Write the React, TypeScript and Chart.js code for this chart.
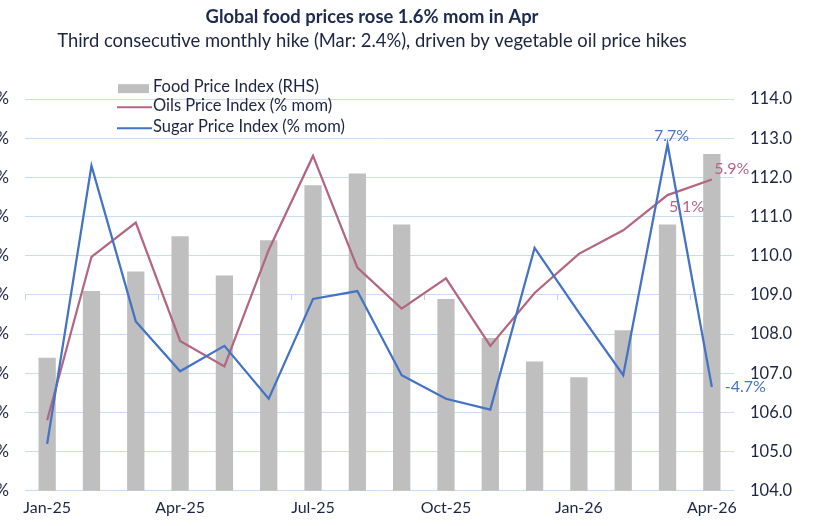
import React, { useEffect, useRef } from 'react';
import { Chart, registerables } from 'chart.js';

Chart.register(...registerables);

const categories = [
  'Jan-25', 'Feb-25', 'Mar-25', 'Apr-25', 'May-25', 'Jun-25', 'Jul-25', 'Aug-25',
  'Sep-25', 'Oct-25', 'Nov-25', 'Dec-25', 'Jan-26', 'Feb-26', 'Mar-26', 'Apr-26',
];
const foodPriceIndex = [107.4, 109.1, 109.6, 110.5, 109.5, 110.4, 111.8, 112.1, 110.8, 108.9, 107.9, 107.3, 106.9, 108.1, 110.8, 112.6];
const oilsMom = [-6.4, 1.95, 3.7, -2.35, -3.65, 2.3, 7.1, 1.4, -0.7, 0.85, -2.6, 0.1, 2.1, 3.3, 5.1, 5.9];
const sugarMom = [-7.6, 6.6, -1.35, -3.9, -2.6, -5.3, -0.2, 0.2, -4.1, -5.3, -5.85, 2.4, -0.9, -4.1, 7.7, -4.7];
const leftAxisTicks = [-10, -8, -6, -4, -2, 0, 2, 4, 6, 8, 10];
const rightAxisTicks = [104, 105, 106, 107, 108, 109, 110, 111, 112, 113, 114];

const TITLE = 'Global food prices rose 1.6% mom in Apr';
const SUBTITLE = 'Third consecutive monthly hike (Mar: 2.4%), driven by vegetable oil price hikes';

const GREY = '#BFBFBF';
const MAUVE = '#B3667F';
const BLUE = '#4472C4';
const GRID = '#C9DCF5';
const TEXT = '#1B2541';
const FONT = 'Lato';

const legendPlugin = {
  id: 'customLegend',
  afterDraw(chart: any) {
    const { ctx, chartArea } = chart;
    const x0 = chartArea.left + 93;
    const rows = [chartArea.top - 12, chartArea.top + 7, chartArea.top + 28];
    const items = [
      { label: chart.data.datasets[2].label, type: 'box', color: GREY },
      { label: chart.data.datasets[1].label, type: 'line', color: MAUVE },
      { label: chart.data.datasets[0].label, type: 'line', color: BLUE },
    ];
    ctx.save();
    ctx.font = `16.5px ${FONT}`;
    ctx.textBaseline = 'middle';
    ctx.textAlign = 'left';
    items.forEach((it, i) => {
      const y = rows[i];
      if (it.type === 'box') {
        ctx.fillStyle = it.color;
        ctx.fillRect(x0, y - 3, 31, 9);
      } else {
        ctx.strokeStyle = it.color;
        ctx.lineWidth = 2;
        ctx.beginPath();
        ctx.moveTo(x0 - 1, y + 1);
        ctx.lineTo(x0 + 34, y + 1);
        ctx.stroke();
      }
      ctx.fillStyle = TEXT;
      ctx.fillText(it.label, x0 + 35, y);
    });
    ctx.restore();
  },
};

const zeroTicksPlugin = {
  id: 'zeroTicks',
  beforeDatasetsDraw(chart: any) {
    const { ctx, chartArea, scales } = chart;
    const y0 = scales.y.getPixelForValue(0);
    const catW = (chartArea.right - chartArea.left) / categories.length;
    ctx.save();
    ctx.strokeStyle = '#B9D0F0';
    ctx.lineWidth = 1;
    ctx.beginPath();
    for (let k = 0; k < categories.length; k += 3) {
      const x = Math.round(chartArea.left + k * catW) + 0.5;
      ctx.moveTo(x, y0);
      ctx.lineTo(x, y0 + 5);
    }
    ctx.stroke();
    ctx.restore();
  },
};

const valueLabelPlugin = {
  id: 'valueLabels',
  afterDatasetsDraw(chart: any) {
    const { ctx } = chart;
    const specs = [
      { ds: 0, idx: 14, dx: 4, dy: -8, align: 'center', color: BLUE },
      { ds: 1, idx: 14, dx: 19, dy: 12, align: 'center', color: MAUVE },
      { ds: 1, idx: 15, dx: 20, dy: -11, align: 'center', color: MAUVE },
      { ds: 0, idx: 15, dx: 13, dy: 0, align: 'left', color: BLUE },
    ];
    ctx.save();
    ctx.font = `16px ${FONT}`;
    ctx.textBaseline = 'middle';
    specs.forEach((s) => {
      const pt = chart.getDatasetMeta(s.ds).data[s.idx];
      const v = chart.data.datasets[s.ds].data[s.idx] as number;
      ctx.fillStyle = s.color;
      ctx.textAlign = s.align;
      ctx.fillText(`${v.toFixed(1)}%`, pt.x + s.dx, pt.y + s.dy);
    });
    ctx.restore();
  },
};

export default function App() {
  const canvasRef = useRef<HTMLCanvasElement | null>(null);

  useEffect(() => {
    const canvas = canvasRef.current;
    if (!canvas) return;
    const chart = new Chart(canvas, {
      type: 'bar',
      data: {
        labels: categories,
        datasets: [
          {
            type: 'line',
            label: 'Sugar Price Index (% mom)',
            data: sugarMom,
            borderColor: BLUE,
            backgroundColor: BLUE,
            borderWidth: 2.25,
            pointRadius: 0,
            tension: 0,
            yAxisID: 'y',
            order: 0,
          },
          {
            type: 'line',
            label: 'Oils Price Index (% mom)',
            data: oilsMom,
            borderColor: MAUVE,
            backgroundColor: MAUVE,
            borderWidth: 2.25,
            pointRadius: 0,
            tension: 0,
            yAxisID: 'y',
            order: 1,
          },
          {
            type: 'bar',
            label: 'Food Price Index (RHS)',
            data: foodPriceIndex,
            backgroundColor: GREY,
            borderWidth: 0,
            barPercentage: 0.39,
            categoryPercentage: 1,
            yAxisID: 'y1',
            order: 2,
          },
        ],
      },
      options: {
        responsive: false,
        animation: false,
        devicePixelRatio: 1,
        layout: { padding: { top: 0, bottom: 2, left: 0, right: 0 } },
        plugins: {
          legend: { display: false },
          tooltip: { enabled: false },
          title: {
            display: true,
            text: TITLE,
            color: '#1B2A4E',
            font: { family: FONT, size: 18.4, weight: 'bold' },
            padding: { top: 6, bottom: 2 },
          },
          subtitle: {
            display: true,
            text: SUBTITLE,
            color: '#1B2541',
            font: { family: FONT, size: 18.4 },
            padding: { top: 0, bottom: 47 },
          },
        },
        scales: {
          x: {
            offset: true,
            grid: { display: false, drawTicks: false },
            border: { display: false },
            ticks: {
              autoSkip: false,
              maxRotation: 0,
              padding: 7,
              color: TEXT,
              font: { family: FONT, size: 16 },
              callback: (_v: any, i: number) => (i % 3 === 0 ? categories[i] : ''),
            },
          },
          y: {
            position: 'left',
            min: leftAxisTicks[0],
            max: leftAxisTicks[leftAxisTicks.length - 1],
            afterBuildTicks: (scale: any) => {
              scale.ticks = leftAxisTicks.map((v) => ({ value: v }));
            },
            afterFit: (scale: any) => {
              scale.width = 112;
            },
            grid: { color: GRID, lineWidth: 1, drawTicks: false },
            border: { display: false },
            ticks: {
              padding: 16,
              color: TEXT,
              font: { family: FONT, size: 16.5 },
              callback: (v: any) => `${v}%`,
            },
          },
          y1: {
            position: 'right',
            min: rightAxisTicks[0],
            max: rightAxisTicks[rightAxisTicks.length - 1],
            afterBuildTicks: (scale: any) => {
              scale.ticks = rightAxisTicks.map((v) => ({ value: v }));
            },
            afterFit: (scale: any) => {
              scale.width = 97;
            },
            grid: { display: false, drawTicks: false },
            border: { display: false },
            ticks: {
              padding: 16,
              color: TEXT,
              font: { family: FONT, size: 16.5 },
              callback: (v: any) => Number(v).toFixed(1),
            },
          },
        },
      },
      plugins: [zeroTicksPlugin, valueLabelPlugin, legendPlugin],
    } as any);
    return () => chart.destroy();
  }, []);

  return (
    <div
      style={{
        position: 'fixed',
        left: 0,
        top: 0,
        width: 831,
        height: 526,
        overflow: 'hidden',
        background: '#ffffff',
      }}
    >
      <canvas
        ref={canvasRef}
        width={918}
        height={526}
        style={{ position: 'absolute', left: -87, top: 0, width: 918, height: 526 }}
      />
    </div>
  );
}
